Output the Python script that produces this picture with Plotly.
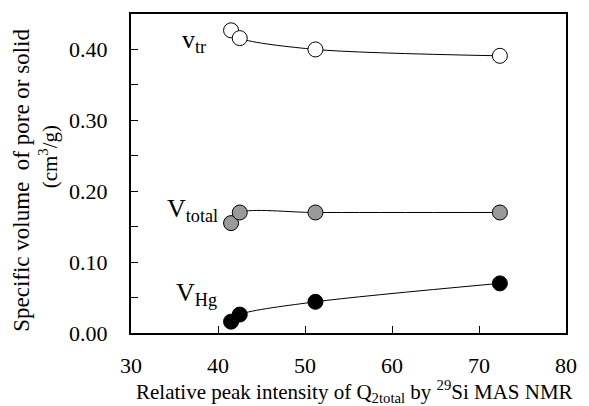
import plotly.graph_objects as go

q2_total = [41.5, 42.5, 51.2, 72.4]
v_tr = [0.427, 0.416, 0.400, 0.391]
v_total = [0.155, 0.170, 0.170, 0.170]
v_hg = [0.016, 0.026, 0.044, 0.070]

x_ticks = [30, 40, 50, 60, 70, 80]
y_ticks = [0.0, 0.1, 0.2, 0.3, 0.4]
y_tick_labels = ["0.00", "0.10", "0.20", "0.30", "0.40"]

FONT = "Times New Roman, Liberation Serif, serif"

fig = go.Figure()
series = [
    (v_tr, "white"),
    (v_total, "#9a9a9a"),
    (v_hg, "black"),
]
for ys, color in series:
    fig.add_trace(go.Scatter(
        x=q2_total, y=ys, mode="lines+markers",
        line=dict(color="black", width=1, shape="spline", smoothing=0.8),
        marker=dict(size=15, color=color, line=dict(color="black", width=1)),
        showlegend=False, cliponaxis=False, hoverinfo="skip",
    ))

axis_common = dict(
    showline=True, linecolor="black", linewidth=2, mirror=True,
    ticks="inside", ticklen=7, tickwidth=1, tickcolor="black",
    showgrid=False, zeroline=False,
    tickfont=dict(family=FONT, size=22, color="black"),
)

fig.update_xaxes(range=[30, 80], tickvals=x_ticks, ticklabelstandoff=12, **axis_common)
fig.update_yaxes(range=[0, 0.45], tickvals=y_ticks, ticktext=y_tick_labels,
                 ticklabelstandoff=17,
                 minor=dict(tickvals=[0.05, 0.15, 0.25, 0.35], ticks="inside", ticklen=7,
                            tickwidth=1, tickcolor="black"),
                 **axis_common)

annots = [
    dict(text="v<sub>tr</sub>", x=38.8, y=0.412, size=26),
    dict(text="V<sub>total</sub>", x=40.2, y=0.174, size=26),
    dict(text="V<sub>Hg</sub>", x=40.1, y=0.055, size=26),
]
for a in annots:
    fig.add_annotation(text=a["text"], x=a["x"], y=a["y"], xref="x", yref="y",
                       xanchor="right", yanchor="middle", showarrow=False,
                       font=dict(family=FONT, size=a["size"], color="black"))

W, H = 589, 406
L, R, T, B = 131, 16, 14, 73
pw, ph = W - L - R, H - T - B

def px(xp, yp):
    return (xp - L) / pw, (H - yp - B) / ph

titles = [
    ("Specific volume  of pore or solid", 19, 180, -90, 23),
    ("(cm<sup>3</sup>/g)", 47, 157, -90, 21),
    ("Relative peak intensity of Q<sub>2total</sub> by <sup>29</sup>Si MAS NMR", 358, 391.5, 0, 21),
]
for text, xp, yp, ang, fs in titles:
    xx, yy = px(xp, yp)
    fig.add_annotation(text=text, textangle=ang, x=xx, y=yy, xref="paper", yref="paper",
                       xanchor="center", yanchor="middle", showarrow=False,
                       font=dict(family=FONT, size=fs, color="black"))

fig.update_layout(
    width=W, height=H,
    margin=dict(l=L, r=R, t=T, b=B),
    plot_bgcolor="white", paper_bgcolor="white",
    font=dict(family=FONT, color="black"),
)

fig.write_html("out.html", config={"displayModeBar": False},
               post_script="document.body.style.margin='0';document.body.style.padding='0';")
